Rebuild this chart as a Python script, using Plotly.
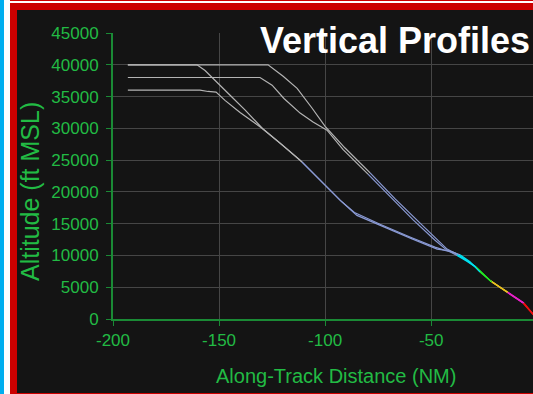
import plotly.graph_objects as go

# ---------------- data (NM along track, altitude ft MSL) ----------------
prof_a_x = [-193, -160.4, -156.6, -151.9, -144.8, -137.8, -129.3, -121.3, -111.8, -102.4,
            -93.0, -85.9, -74.1, -60.0, -48.2, -43.5, -38.7, -34.0, -29.3, -22.2, -14.2, -6.7, 0]
prof_a_y = [40000, 40000, 39100, 37600, 35200, 32900, 29900, 27700, 25000, 21800,
            18700, 16700, 14900, 12900, 11300, 10800, 10400, 9400, 8300, 6000, 4200, 2500, 0]

prof_b_x = [-193, -126.9, -119.8, -113.2, -106.2, -100.0, -90.6, -78.8, -67.0, -56.2,
            -47.2, -42.5, -37.8, -33.5, -29.0, -22.0, -14.0, -6.5, 0]
prof_b_y = [40000, 40000, 38200, 36300, 33200, 30300, 26900, 23000, 18900, 15400,
            12400, 11000, 10200, 9300, 8200, 6000, 4200, 2500, 0]

prof_c_x = [-193, -130.7, -125.0, -119.4, -111.8, -105.7, -99.1, -91.6, -79.8, -68.0,
            -58.5, -48.2, -42.5, -37.8, -33.2, -28.8, -22.0, -14.0, -6.5, 0]
prof_c_y = [38000, 38000, 36800, 34700, 32400, 31000, 29700, 26700, 22800, 18900,
            15600, 12400, 10800, 10000, 9100, 8100, 6000, 4200, 2500, 0]

prof_d_x = [-193, -159, -155.2, -151.4, -147.2, -140.1, -133.0, -129.3, -120.3, -110.9,
            -101.5, -92.0, -85.0, -73.2, -59.0, -47.2, -41.1, -36.4, -31.7, -27.0, -21.3,
            -13.8, -6.2, 0]
prof_d_y = [36000, 36000, 35800, 35700, 34400, 32500, 30800, 29900, 27400, 24700,
            21500, 18400, 16300, 14600, 12600, 11000, 10700, 10100, 9000, 7400, 5800,
            4200, 2500, 0]

profiles = [(prof_a_x, prof_a_y), (prof_b_x, prof_b_y), (prof_c_x, prof_c_y), (prof_d_x, prof_d_y)]

# altitude bands (lower bound ft) and their colours
band_floor = [24000, 10000, 7700, 5800, 4200, 2500, -1e9]
band_color = ["#b4b4b4", "#8a9ad4", "#00e0f0", "#22e822", "#e8c020", "#e822c8", "#f01010"]

x_ticks = [-200, -150, -100, -50, 0]
x_tick_text = ["-200", "-150", "-100", "-50", "0"]
y_ticks = [0, 5000, 10000, 15000, 20000, 25000, 30000, 35000, 40000, 45000]
y_tick_text = ["0", "5000", "10000", "15000", "20000", "25000", "30000", "35000", "40000", "45000"]

title_text = "Vertical Profiles"
x_title = "Along-Track Distance (NM)"
y_title = "Altitude (ft MSL)"

# ---------------- figure ----------------
W, H = 533, 394
L, R, T, B = 113, 0, 33, 75
PW, PH = W - L - R, H - T - B

def band_of(alt):
    for i, f in enumerate(band_floor):
        if alt >= f:
            return i
    return len(band_floor) - 1

fig = go.Figure()
for xs, ys in profiles:
    seg_x, seg_y, cur = [xs[0]], [ys[0]], None
    for i in range(1, len(xs)):
        b = band_of((ys[i - 1] + ys[i]) / 2)
        if cur is None:
            cur = b
        if b != cur:
            fig.add_trace(go.Scatter(x=seg_x, y=seg_y, mode="lines",
                                     line=dict(color=band_color[cur], width=1.2),
                                     hoverinfo="skip", showlegend=False))
            seg_x, seg_y, cur = [xs[i - 1]], [ys[i - 1]], b
        seg_x.append(xs[i]); seg_y.append(ys[i])
    fig.add_trace(go.Scatter(x=seg_x, y=seg_y, mode="lines",
                             line=dict(color=band_color[cur], width=1.2),
                             hoverinfo="skip", showlegend=False))

def px(xp):
    return (xp - L) / PW

def py(yp):
    return (H - B - yp) / PH

def rect(x0, y0, x1, y1, color):
    fig.add_shape(type="rect", xref="paper", yref="paper",
                  x0=px(x0), x1=px(x1), y0=py(y0), y1=py(y1),
                  fillcolor=color, line=dict(width=0), layer="above")

# frame decorations
rect(0, 0, 4, H, "#00aeef")
rect(4, 0, 10, H, "#ffffff")
rect(10, 0, W, 1, "#cc0000")
rect(10, 1, W, 3, "#ffffff")
rect(10, 3, W, 10, "#cc0000")
rect(10, 3, 17, H, "#cc0000")
rect(10, H - 1, W, H, "#cc0000")

green = "#22bb44"
axis_green = "#1a8a35"
grid = "#464646"
font = "Liberation Sans, Arial, sans-serif"

fig.update_layout(
    width=W, height=H,
    margin=dict(l=L, r=R, t=T, b=B),
    paper_bgcolor="#141414", plot_bgcolor="#141414",
    showlegend=False,
    font=dict(family=font, color=green),
    xaxis=dict(range=[-200, -2], tickvals=x_ticks, ticktext=x_tick_text,
               showgrid=True, gridcolor=grid, gridwidth=1,
               zeroline=False, showline=True, linecolor=axis_green, linewidth=2,
               ticks="outside", ticklen=5, tickcolor=axis_green, tickwidth=1,
               tickfont=dict(size=17, color=green, family=font)),
    yaxis=dict(range=[0, 45000], tickvals=y_ticks, ticktext=y_tick_text,
               showgrid=True, gridcolor=grid, gridwidth=1,
               zeroline=False, showline=True, linecolor=axis_green, linewidth=2,
               ticks="outside", ticklen=5, tickcolor=axis_green, tickwidth=1,
               ticklabelstandoff=4,
               tickfont=dict(size=17, color=green, family=font)),
    annotations=[
        dict(text="<b>" + title_text + "</b>", xref="paper", yref="paper",
             x=px(258), y=py(40), xanchor="left", yanchor="middle", showarrow=False,
             font=dict(size=36, color="#ffffff", family=font)),
        dict(text=x_title, xref="paper", yref="paper", x=px(336), y=py(376),
             xanchor="center", yanchor="middle", showarrow=False,
             font=dict(size=20, color=green, family=font)),
        dict(text=y_title, xref="paper", yref="paper", x=px(30), y=py(192),
             xanchor="center", yanchor="middle", showarrow=False, textangle=-90,
             font=dict(size=25, color=green, family=font)),
    ],
)

fig.write_html("out.html")
